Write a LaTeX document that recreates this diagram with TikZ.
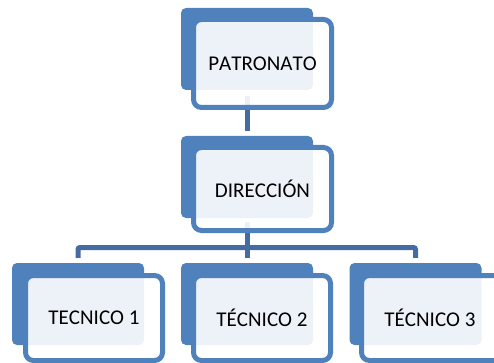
\documentclass[tikz,border=0pt]{standalone}
\usepackage{fontspec}
\setmainfont{Carlito}[Kerning=Off]
\definecolor{boxblue}{HTML}{4F81BD}
\definecolor{connblue}{RGB}{68,108,162}
\definecolor{txt}{HTML}{000000}
\begin{document}
\begin{tikzpicture}[x=1pt,y=-1pt,
  backbox/.style={rectangle,fill=boxblue,rounded corners=5pt,minimum width=132pt,minimum height=82pt,inner sep=0pt},
  frontbox/.style={rectangle,draw=boxblue,line width=5pt,fill=white,fill opacity=0.9,text opacity=1,rounded corners=8pt,minimum width=138pt,inner sep=0pt,text=txt,font=\fontsize{21}{25}\selectfont},
  conn/.style={draw=connblue,line width=5pt,rounded corners=2pt}]
\useasboundingbox (0,0) rectangle (494,363);
% back rectangles
\node[backbox] (pb) at (247,49) {};
\node[backbox] (db) at (247,177) {};
\node[backbox] (t1b) at (78,304) {};
\node[backbox] (t2b) at (247,304) {};
\node[backbox] (t3b) at (415.5,304) {};
% connectors
\coordinate (hb) at (247,247.5);
\draw[conn] ([yshift=-6pt]pb.south) -- ([yshift=5pt]db.north);
\draw[conn] ([yshift=-4pt]db.south) -- ([yshift=5pt]t2b.north);
\draw[conn] ([yshift=5pt]t1b.north) |- (hb) -| ([yshift=5pt]t3b.north);
% front boxes
\node[frontbox,minimum height=88pt] (pf) at (262.5,63.5) {PATRONATO};
\node[frontbox,minimum height=83pt] (df) at (262.5,189) {DIRECCIÓN};
\node[frontbox,minimum width=137pt,minimum height=85pt] (t1f) at (94,318) {TECNICO 1};
\node[frontbox,minimum width=137pt,minimum height=85pt] (t2f) at (262,318) {TÉCNICO 2};
\node[frontbox,minimum width=160pt,minimum height=85pt] (t3f) at (441.5,318) {\hspace*{-23pt}TÉCNICO 3};
\end{tikzpicture}
\end{document}
